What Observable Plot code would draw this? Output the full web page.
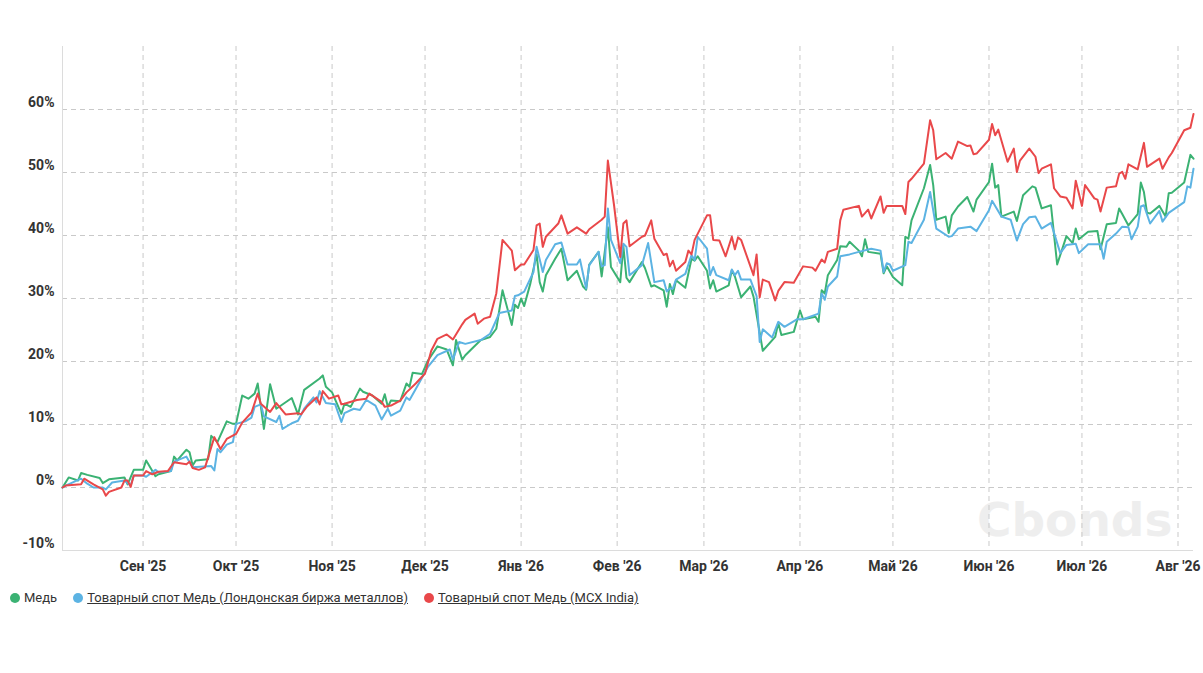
<!DOCTYPE html>
<html>
<head>
<meta charset="utf-8">
<script src="https://cdn.jsdelivr.net/npm/d3@7"></script>
<script src="https://cdn.jsdelivr.net/npm/@observablehq/plot@0.6"></script>
<style>
  html, body { margin: 0; padding: 0; background: #fff; }
  body { width: 1203px; height: 673px; position: relative; font-family: Roboto, "Noto Sans", sans-serif; }
  #chart { position: absolute; left: 0; top: 0; }
  #legend { position: absolute; left: 10px; top: 590px; display: flex; align-items: center; font-size: 13px; color: #333; white-space: nowrap; }
  .item { display: flex; align-items: center; margin-right: 16px; }
  .dot { width: 10px; height: 10px; border-radius: 50%; margin-right: 4px; display: inline-block; }
  .u { text-decoration: underline; }
</style>
</head>
<body>
<div id="chart"></div>
<div id="legend"></div>
<script>
// ---- data (day offset from start date, % change) ----
const startDate = new Date("2025-08-06");
const endDate = new Date("2026-08-06");

const seriesNames = [
  "Медь",
  "Товарный спот Медь (Лондонская биржа металлов)",
  "Товарный спот Медь (MCX India)"
];
const seriesColors = ["#3bb273", "#5cb3e3", "#e9484a"];

const copper = [[0,0],[2,1.6],[5,1.1],[6,2.3],[8,2.0],[12,1.5],[13,0.7],[15,1.3],[20,1.6],[21,0.5],[23,2.8],[26,2.8],[27,4.3],[30,1.8],[31,2.1],[35,2.6],[36,4.9],[37,4.3],[40,6.0],[41,5.6],[42,3.5],[43,4.3],[47,4.5],[48,8.2],[50,7.2],[53,10.5],[55,10.1],[56,10.1],[58,14.6],[60,14.1],[62,14.9],[63,16.5],[65,9.3],[67,16.4],[69,12.5],[74,14.2],[76,11.6],[78,15.5],[83,17.3],[84,17.8],[85,16.0],[87,15.1],[90,11.7],[91,13.3],[93,12.8],[96,15.7],[97,15.2],[100,14.6],[103,13.3],[104,14.8],[105,12.8],[106,13.8],[109,13.7],[111,16.5],[112,16.0],[113,18.2],[116,18.0],[118,20.2],[121,22.4],[124,21.9],[126,19.4],[127,23.4],[129,20.3],[130,21.0],[135,23.4],[138,23.9],[140,25.2],[142,31.3],[145,25.8],[146,29.0],[147,28.5],[148,30.0],[149,28.8],[151,32.4],[153,37.0],[154,32.6],[155,31.1],[156,33.7],[159,36.3],[161,37.9],[163,32.9],[166,34.4],[168,31.9],[169,31.4],[170,35.4],[173,37.4],[174,33.5],[176,41.3],[177,35.0],[180,32.6],[181,38.3],[182,33.3],[183,32.6],[187,35.8],[188,34.8],[190,31.9],[191,32.1],[194,31.3],[195,28.7],[196,32.3],[197,30.7],[198,32.9],[201,31.7],[203,36.3],[204,36.0],[205,36.7],[208,34.4],[209,31.6],[210,32.9],[211,31.1],[215,32.1],[216,34.5],[217,33.5],[219,30.2],[222,31.9],[223,30.3],[226,21.7],[230,23.9],[231,26.1],[232,24.2],[236,24.7],[238,28.1],[239,26.7],[243,27.1],[244,26.3],[245,31.3],[246,30.8],[247,33.7],[250,36.1],[251,38.3],[253,38.2],[254,39.0],[257,37.6],[258,36.7],[259,39.4],[260,37.4],[264,37.1],[265,34.0],[266,35.1],[268,33.4],[271,32.1],[272,39.8],[273,39.5],[274,42.4],[278,47.5],[280,51.2],[281,48.0],[282,42.5],[285,43.0],[286,40.4],[287,43.2],[289,44.6],[292,46.1],[294,43.8],[295,45.7],[299,48.5],[300,51.4],[301,47.6],[302,48.0],[303,43.0],[307,43.8],[308,42.3],[310,46.4],[313,47.8],[314,47.6],[316,44.3],[319,44.8],[321,35.4],[324,39.9],[326,38.8],[327,41.1],[328,39.4],[331,40.6],[334,40.7],[335,37.8],[337,41.8],[340,42.0],[341,44.3],[342,43.4],[344,41.6],[347,43.4],[348,48.4],[349,46.9],[350,43.6],[351,43.5],[354,44.7],[356,43.0],[357,46.7],[358,46.8],[362,48.4],[364,52.8],[365,52.2]];

const copperLME = [[0,0],[1,0.3],[6,1.4],[8,0.6],[10,0],[13,0],[14,-0.3],[16,0.8],[20,1.1],[22,0.3],[23,1.9],[26,1.9],[27,1.7],[30,2.8],[31,2.4],[35,2.6],[36,4.1],[40,4.9],[42,3.2],[48,3.4],[49,2.7],[50,6.1],[51,5.6],[53,6.8],[55,7.2],[56,10.1],[59,10.5],[61,11.1],[62,12.8],[64,13.2],[65,11.3],[69,10.4],[70,11.4],[71,9.3],[74,10.2],[76,10.6],[78,12.5],[81,14.3],[82,13.5],[83,15.3],[85,13.4],[88,13.2],[90,10.4],[91,11.8],[94,12.5],[96,12.3],[98,13.9],[101,13.0],[103,10.8],[105,12.5],[106,11.4],[109,12.2],[111,14.3],[112,13.9],[115,16.5],[118,19.2],[121,21.0],[125,21.9],[126,20.3],[128,23.1],[130,22.8],[135,23.4],[138,24.4],[141,27.7],[145,28.1],[146,30.4],[147,30.5],[149,31.1],[152,34.2],[153,38.2],[155,34.2],[156,36.1],[159,38.6],[161,38.9],[163,35.4],[166,35.4],[167,36.2],[169,31.6],[170,35.3],[173,37.4],[174,35.1],[175,35.3],[176,44.3],[177,39.3],[180,35.6],[181,38.7],[182,38.2],[183,33.7],[187,35.3],[189,38.8],[191,32.6],[194,32.9],[195,31.1],[196,31.6],[197,31.6],[198,33.0],[201,33.9],[203,36.9],[204,36.1],[205,39.8],[208,37.9],[209,33.7],[210,35.0],[211,33.7],[215,32.9],[216,34.6],[217,33.7],[218,34.4],[219,33.0],[222,33.0],[224,30.4],[225,23.1],[226,25.1],[229,23.8],[231,26.3],[233,25.5],[237,26.7],[239,26.7],[244,27.6],[245,30.8],[246,29.8],[247,31.9],[250,33.5],[251,36.7],[254,37.0],[257,37.4],[261,37.9],[264,37.6],[265,34.2],[266,35.6],[267,35.4],[268,34.4],[272,35.3],[273,39.0],[274,38.8],[278,42.5],[280,46.9],[282,41.1],[286,39.8],[287,39.9],[289,41.1],[293,41.4],[295,40.7],[299,44.0],[300,45.5],[303,43.0],[306,42.5],[308,39.2],[310,41.8],[312,42.9],[314,43.0],[316,41.1],[319,42.0],[322,37.2],[324,38.5],[327,38.7],[328,37.2],[331,38.6],[335,38.6],[336,36.3],[337,39.0],[340,40.3],[342,41.4],[344,41.3],[345,39.4],[347,41.4],[348,44.6],[349,44.8],[351,41.9],[354,43.9],[355,42.2],[357,43.6],[362,45.3],[363,47.8],[364,47.6],[365,50.6]];

const copperMCX = [[0,0],[1,0.3],[6,0.5],[7,1.4],[10,0.5],[13,-0.3],[14,-1.3],[15,-0.7],[19,0],[20,1.1],[21,1.1],[22,0.1],[23,1.9],[26,1.9],[27,2.6],[29,2.1],[31,2.5],[34,2.6],[36,4.0],[40,3.7],[41,4.1],[42,3.1],[44,2.8],[46,3.2],[49,8.0],[51,6.1],[53,7.7],[56,8.5],[58,10.3],[61,11.9],[63,14.9],[64,13.3],[67,12.0],[69,13.4],[72,11.6],[76,11.8],[77,11.6],[79,12.9],[82,14.3],[83,13.2],[84,15.3],[86,14.1],[89,14.6],[90,13.2],[91,13.3],[95,13.9],[98,14.1],[99,14.9],[103,13.6],[104,12.8],[106,13.0],[109,13.8],[111,15.1],[114,16.5],[117,18.1],[119,21.7],[121,23.6],[124,24.3],[126,23.5],[129,25.9],[130,26.6],[133,27.6],[134,26.0],[136,26.8],[138,27.1],[140,30.8],[142,39.3],[145,37.6],[146,34.5],[148,35.4],[149,35.4],[152,37.7],[153,41.6],[154,41.9],[155,38.2],[156,39.8],[160,41.9],[161,43.2],[163,40.3],[166,41.3],[169,40.3],[170,41.0],[174,42.5],[175,43.0],[176,51.9],[178,44.8],[180,36.6],[181,41.9],[182,42.4],[183,38.3],[187,39.8],[188,40.0],[190,42.4],[191,39.5],[194,36.9],[195,37.1],[196,35.1],[197,36.0],[198,34.4],[201,35.8],[202,37.6],[203,37.0],[204,39.3],[208,43.2],[209,43.2],[210,39.3],[212,39.2],[214,36.7],[216,39.8],[217,37.8],[218,39.7],[219,39.3],[223,33.7],[224,37.0],[225,30.2],[226,33.0],[228,32.6],[230,29.7],[231,31.2],[233,32.6],[236,32.5],[239,35.1],[242,34.9],[243,34.4],[245,36.2],[246,35.7],[247,37.4],[250,37.9],[251,42.4],[252,44.1],[257,44.7],[258,43.0],[260,44.1],[261,42.7],[264,46.2],[265,43.6],[266,44.7],[271,44.7],[272,43.4],[273,48.5],[274,49.0],[278,51.4],[280,58.3],[281,56.7],[282,52.1],[285,53.1],[287,52.2],[289,54.9],[292,54.2],[293,54.3],[294,52.9],[295,53.0],[299,55.2],[300,57.7],[301,55.9],[302,56.8],[305,51.7],[307,53.8],[308,50.1],[309,51.9],[312,53.8],[314,52.5],[315,49.9],[316,50.6],[319,51.3],[320,47.5],[322,46.2],[324,46.0],[326,44.3],[327,48.7],[329,44.7],[330,48.0],[333,45.9],[334,45.7],[335,43.8],[337,47.6],[340,47.8],[341,49.8],[342,50.1],[343,49.0],[344,51.3],[347,50.5],[349,54.7],[350,50.9],[354,52.2],[355,50.6],[357,52.4],[358,53.1],[362,56.7],[364,57.1],[365,59.3]];

const monthTicks = ["2025-09-01","2025-10-01","2025-11-01","2025-12-01","2026-01-01","2026-02-01","2026-03-01","2026-04-01","2026-05-01","2026-06-01","2026-07-01","2026-08-01"];
const monthLabels = ["Сен '25","Окт '25","Ноя '25","Дек '25","Янв '26","Фев '26","Мар '26","Апр '26","Май '26","Июн '26","Июл '26","Авг '26"];
const yTicks = [-10, 0, 10, 20, 30, 40, 50, 60];
const yGrid = [0, 10, 20, 30, 40, 50, 60];
const yDomain = [-10, 70];

// ---- build ----
const toRows = (pairs) => pairs.map(([d, v]) => ({date: d3.utcDay.offset(startDate, d), value: v}));
const allSeries = [copper, copperLME, copperMCX].map(toRows);
const tickDates = monthTicks.map(s => new Date(s));
const labelOf = new Map(tickDates.map((d, i) => [+d, monthLabels[i]]));

const gridStyle = {stroke: "#c9c9c9", strokeOpacity: 1, strokeDasharray: "5,4", strokeWidth: 1};
const axisText = {fontSize: 14, fontWeight: "bold", fill: "#333"};

const chart = Plot.plot({
  width: 1203,
  height: 580,
  marginTop: 46,
  marginBottom: 30,
  marginLeft: 62,
  marginRight: 10,
  style: {fontFamily: "Roboto, 'Noto Sans', sans-serif", background: "#fff", overflow: "visible"},
  x: {type: "utc", domain: [startDate, endDate], label: null},
  y: {domain: yDomain, label: null},
  marks: [
    Plot.text(["Cbonds"], {frameAnchor: "bottom-right", dx: -21, dy: -15, lineAnchor: "bottom", fontSize: 47, fontWeight: "bold", fontFamily: "'DejaVu Sans', sans-serif", fill: "#eeeeee"}),
    Plot.gridX({ticks: tickDates, ...gridStyle}),
    Plot.gridY({ticks: yGrid, ...gridStyle}),
    Plot.ruleY([yDomain[0]], {stroke: "#dcdcdc"}),
    Plot.ruleX([startDate], {stroke: "#dcdcdc"}),
    ...allSeries.map((rows, i) => Plot.line(rows, {x: "date", y: "value", stroke: seriesColors[i], strokeWidth: 2, strokeLinejoin: "round"})),
    Plot.axisY({ticks: yTicks, tickFormat: d => `${d}%`, tickSize: 0, tickPadding: 8, dy: -7, label: null, ...axisText}),
    Plot.axisX({ticks: tickDates, tickFormat: d => labelOf.get(+d), tickSize: 0, tickPadding: 11, label: null, ...axisText})
  ]
});
document.getElementById("chart").appendChild(chart);

// ---- legend ----
const legend = document.getElementById("legend");
seriesNames.forEach((name, i) => {
  const item = document.createElement("span");
  item.className = "item";
  const dot = document.createElement("span");
  dot.className = "dot";
  dot.style.background = seriesColors[i];
  const label = document.createElement("span");
  label.textContent = name;
  if (i > 0) label.className = "u";
  item.appendChild(dot);
  item.appendChild(label);
  legend.appendChild(item);
});
</script>
</body>
</html>
